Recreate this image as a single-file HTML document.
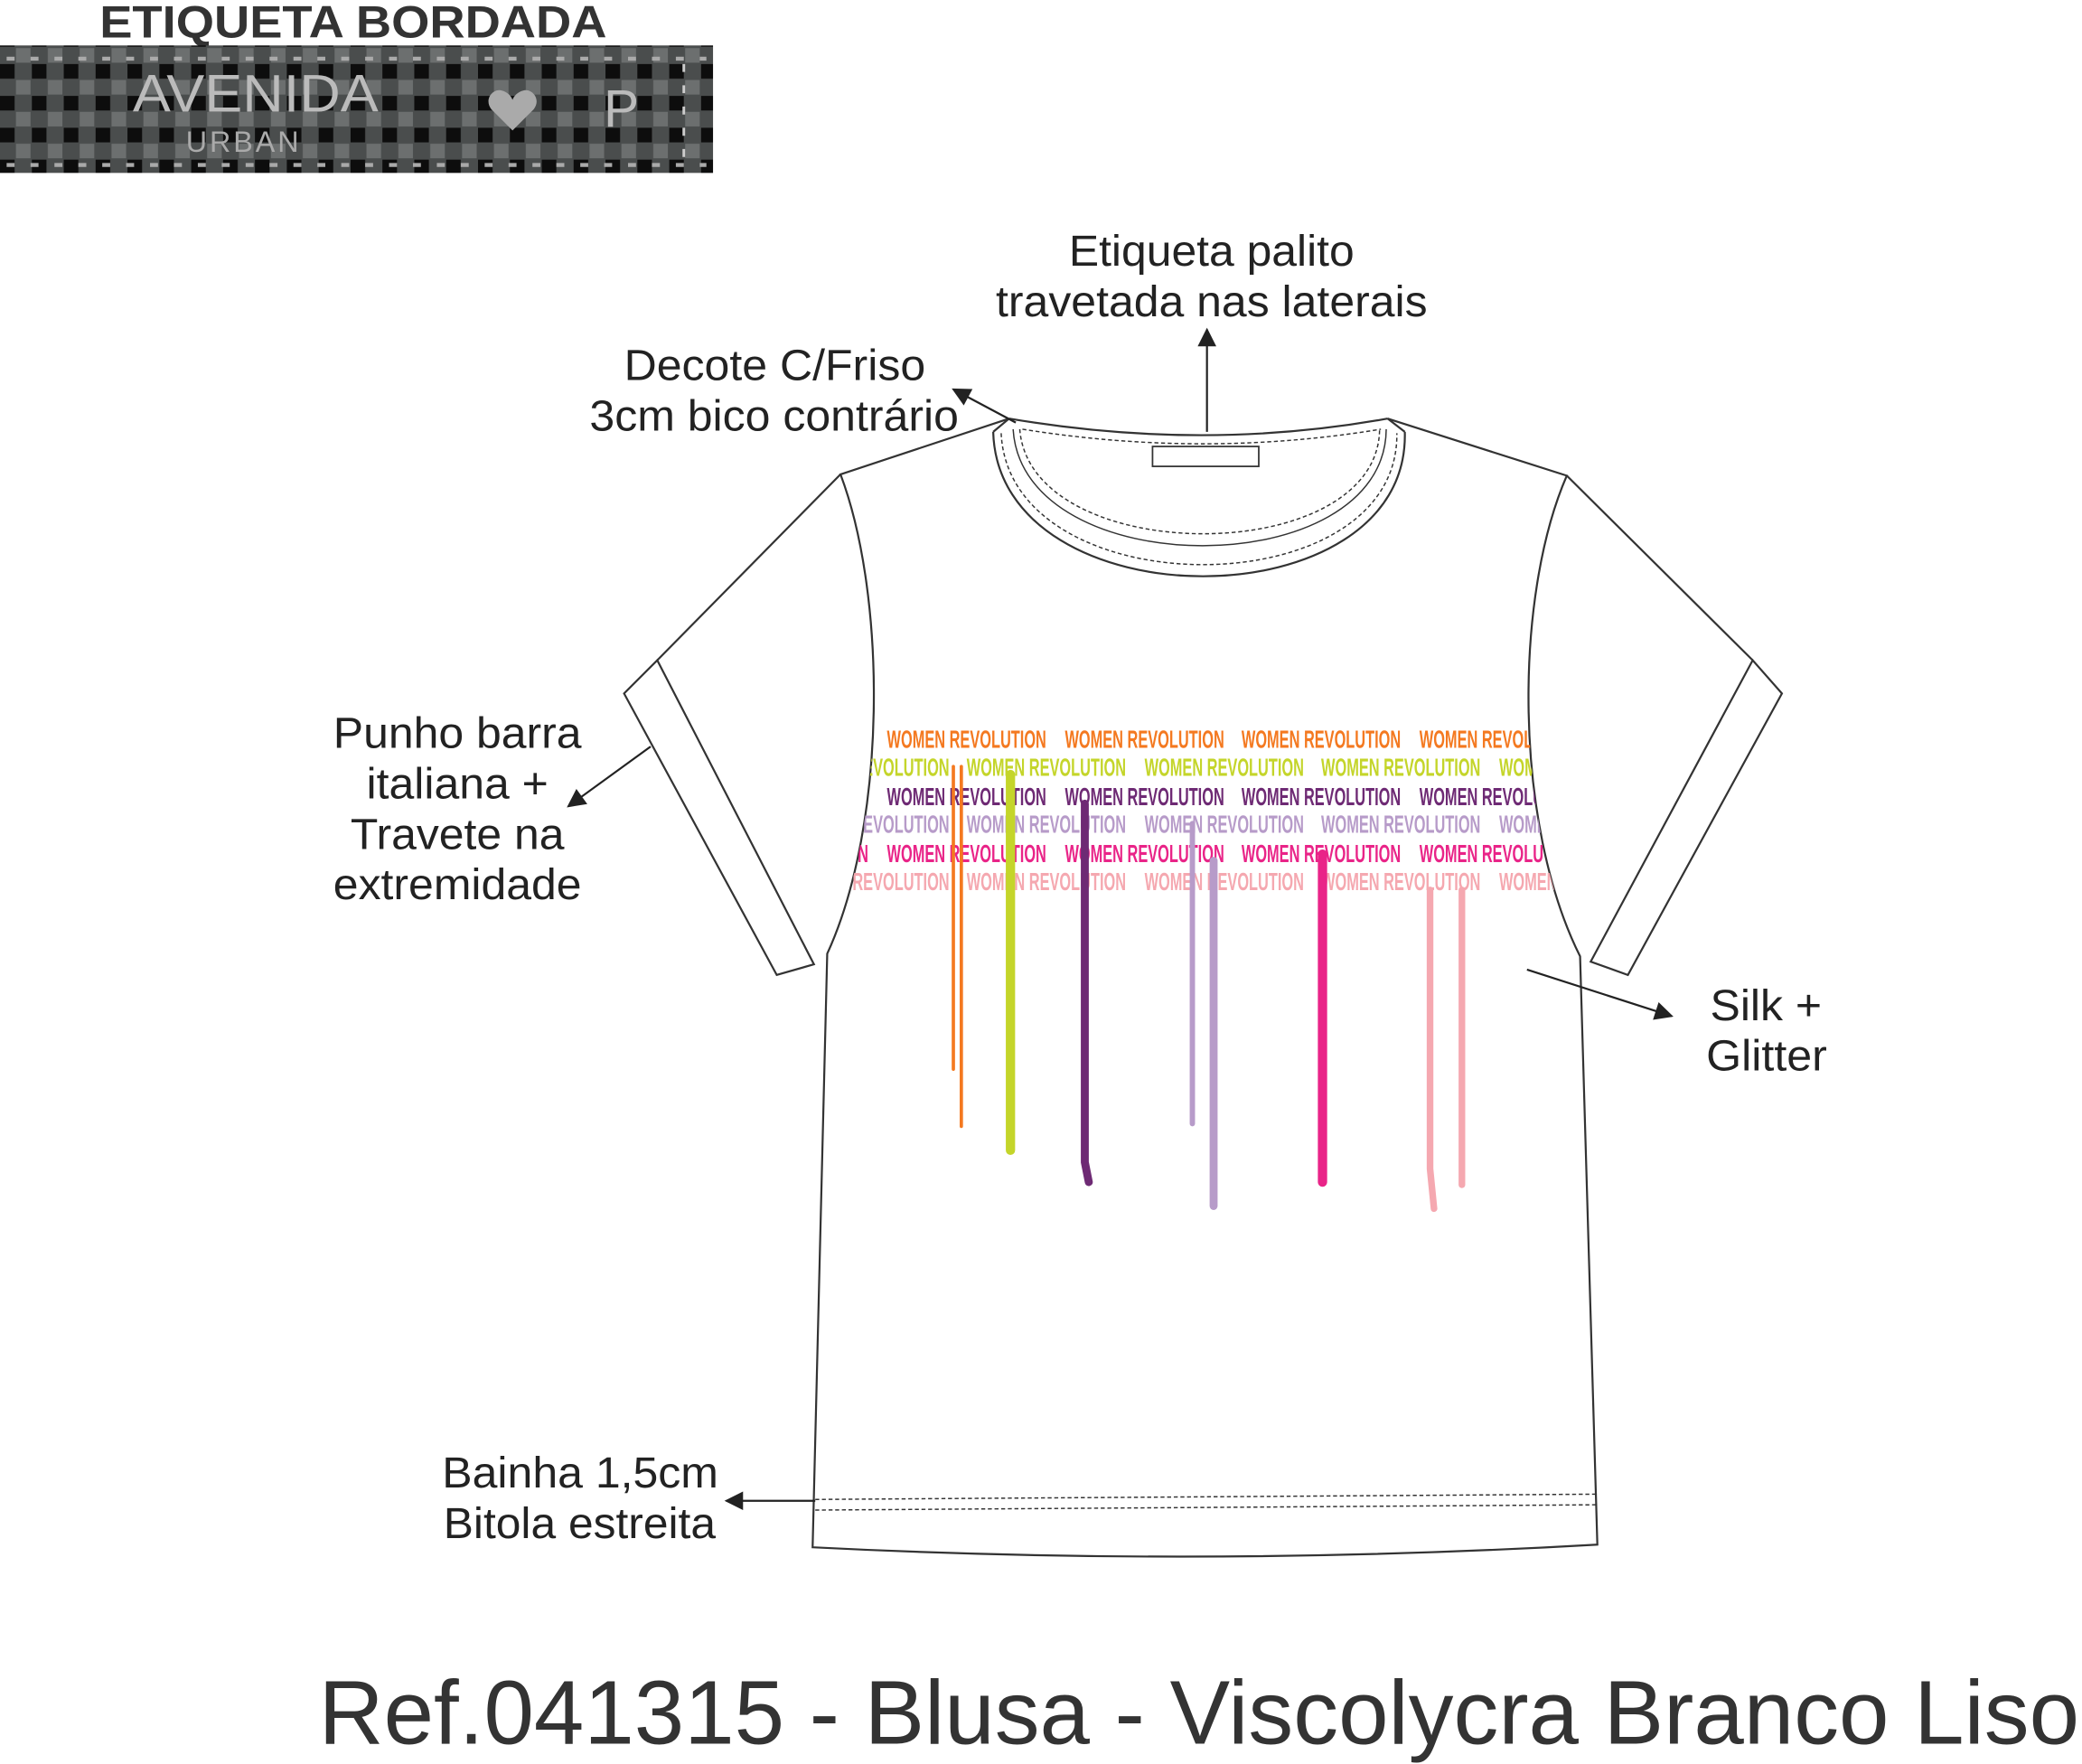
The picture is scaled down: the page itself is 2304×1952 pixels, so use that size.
<!DOCTYPE html>
<html><head><meta charset="utf-8"><style>
html,body{margin:0;padding:0;background:#fff;width:2304px;height:1952px;overflow:hidden}
svg{display:block}
text{font-family:"Liberation Sans",sans-serif}
</style></head><body>
<svg width="2304" height="1952" viewBox="0 0 1568 1328" xmlns="http://www.w3.org/2000/svg">
<defs>
<marker id="ah" viewBox="0 0 10 10" refX="9" refY="5" markerWidth="16" markerHeight="14" orient="auto-start-reverse" markerUnits="userSpaceOnUse"><path d="M0,0 L10,5 L0,10 z" fill="#222"/></marker>
<pattern id="chk" width="24" height="24" patternUnits="userSpaceOnUse">
<rect width="24" height="24" fill="#4a4d4d"/><rect width="11" height="11" fill="#0d0d0d"/><rect x="12" y="12" width="11" height="11" fill="#6c6f6f"/>
</pattern>
<clipPath id="bodyclip"><path d="M633,357 C668,450 668,620 623,718 L612,1165 L1203,1163 L1190,720 C1140,620 1140,450 1180,358 Z"/></clipPath>
</defs>
<text x="75" y="28" font-size="34" font-weight="bold" fill="#333" textLength="382" lengthAdjust="spacingAndGlyphs">ETIQUETA BORDADA</text>
<rect x="0" y="34" width="537" height="96" fill="url(#chk)"/>
<line x1="5" y1="44" x2="532" y2="44" stroke="#aaa" stroke-width="3" stroke-dasharray="6,12"/>
<line x1="5" y1="124" x2="532" y2="124" stroke="#aaa" stroke-width="3" stroke-dasharray="6,12"/>
<line x1="515" y1="48" x2="515" y2="120" stroke="#ccc" stroke-width="2" stroke-dasharray="6,10"/>
<text x="100" y="84" font-size="40" fill="#bbb" textLength="185" lengthAdjust="spacingAndGlyphs">AVENIDA</text>
<text x="140" y="114" font-size="22" fill="#aaa" letter-spacing="2">URBAN</text>
<path d="M386,98 L370,82 C364,74 372,66 378,68 C382,69 385,72 386,75 C387,72 390,69 394,68 C400,66 408,74 402,82 Z" fill="#aaa"/>
<text x="468" y="95" font-size="40" fill="#bbb" text-anchor="middle">P</text>

<g fill="none" stroke="#333" stroke-width="1.5">
<path d="M760,315 L633,357 C668,450 668,620 623,718 L612,1165 Q907,1180 1203,1163 L1190,720 C1140,620 1140,450 1180,358 L1045,315" fill="#fff"/>
<path d="M633,357 L495,497"/>
<path d="M1180,358 L1320,497"/>
<path d="M470,522 L495,497 L613,726 L585,734 Z" fill="#fff"/>
<path d="M1342,522 L1320,497 L1198,724 L1226,734 Z" fill="#fff"/>
<path d="M760,315 Q907,340 1045,315"/>
<path d="M748,325 C752,470 1062,470 1058,325"/>
<path d="M760,315 L748,325 M1045,315 L1058,325"/>
<path d="M754,326 C760,458 1054,458 1052,326" stroke-width="1" stroke-dasharray="3,2"/>
<path d="M763,323 C770,440 1043,440 1044,323" stroke-width="1"/>
<path d="M768,323 C776,428 1038,428 1039,323" stroke-width="1" stroke-dasharray="3,2"/>
<path d="M770,323 Q907,345 1040,323" stroke-width="1" stroke-dasharray="3,2"/>
<rect x="868" y="336" width="80" height="15" fill="#fff" stroke-width="1.2"/>
<path d="M614,1129 L1204,1125" stroke-width="1" stroke-dasharray="3,2"/>
<path d="M614,1137 L1204,1133" stroke-width="1" stroke-dasharray="3,2"/>
</g>

<g clip-path="url(#bodyclip)" font-family="'Liberation Sans Narrow','Liberation Sans',sans-serif" font-size="19" font-weight="bold">
<g fill="#f47920">
<text x="668" y="563" textLength="120" lengthAdjust="spacingAndGlyphs">WOMEN REVOLUTION</text>
<text x="802" y="563" textLength="120" lengthAdjust="spacingAndGlyphs">WOMEN REVOLUTION</text>
<text x="935" y="563" textLength="120" lengthAdjust="spacingAndGlyphs">WOMEN REVOLUTION</text>
<text x="1069" y="563" textLength="120" lengthAdjust="spacingAndGlyphs">WOMEN REVOLUTION</text></g>
<g fill="#c4d52a">
<text x="595" y="584" textLength="120" lengthAdjust="spacingAndGlyphs">WOMEN REVOLUTION</text>
<text x="728" y="584" textLength="120" lengthAdjust="spacingAndGlyphs">WOMEN REVOLUTION</text>
<text x="862" y="584" textLength="120" lengthAdjust="spacingAndGlyphs">WOMEN REVOLUTION</text>
<text x="995" y="584" textLength="120" lengthAdjust="spacingAndGlyphs">WOMEN REVOLUTION</text>
<text x="1129" y="584" textLength="120" lengthAdjust="spacingAndGlyphs">WOMEN REVOLUTION</text></g>
<g fill="#6e2a74">
<text x="668" y="606" textLength="120" lengthAdjust="spacingAndGlyphs">WOMEN REVOLUTION</text>
<text x="802" y="606" textLength="120" lengthAdjust="spacingAndGlyphs">WOMEN REVOLUTION</text>
<text x="935" y="606" textLength="120" lengthAdjust="spacingAndGlyphs">WOMEN REVOLUTION</text>
<text x="1069" y="606" textLength="120" lengthAdjust="spacingAndGlyphs">WOMEN REVOLUTION</text></g>
<g fill="#b79bc9">
<text x="595" y="627" textLength="120" lengthAdjust="spacingAndGlyphs">WOMEN REVOLUTION</text>
<text x="728" y="627" textLength="120" lengthAdjust="spacingAndGlyphs">WOMEN REVOLUTION</text>
<text x="862" y="627" textLength="120" lengthAdjust="spacingAndGlyphs">WOMEN REVOLUTION</text>
<text x="995" y="627" textLength="120" lengthAdjust="spacingAndGlyphs">WOMEN REVOLUTION</text>
<text x="1129" y="627" textLength="120" lengthAdjust="spacingAndGlyphs">WOMEN REVOLUTION</text></g>
<g fill="#e92488">
<text x="534" y="649" textLength="120" lengthAdjust="spacingAndGlyphs">WOMEN REVOLUTION</text>
<text x="668" y="649" textLength="120" lengthAdjust="spacingAndGlyphs">WOMEN REVOLUTION</text>
<text x="802" y="649" textLength="120" lengthAdjust="spacingAndGlyphs">WOMEN REVOLUTION</text>
<text x="935" y="649" textLength="120" lengthAdjust="spacingAndGlyphs">WOMEN REVOLUTION</text>
<text x="1069" y="649" textLength="120" lengthAdjust="spacingAndGlyphs">WOMEN REVOLUTION</text></g>
<g fill="#f5a8b0">
<text x="595" y="670" textLength="120" lengthAdjust="spacingAndGlyphs">WOMEN REVOLUTION</text>
<text x="728" y="670" textLength="120" lengthAdjust="spacingAndGlyphs">WOMEN REVOLUTION</text>
<text x="862" y="670" textLength="120" lengthAdjust="spacingAndGlyphs">WOMEN REVOLUTION</text>
<text x="995" y="670" textLength="120" lengthAdjust="spacingAndGlyphs">WOMEN REVOLUTION</text>
<text x="1129" y="670" textLength="120" lengthAdjust="spacingAndGlyphs">WOMEN REVOLUTION</text></g>
</g>
<g stroke-linecap="round" fill="none">
<path d="M718,577 L718,805 M724,577 L724,848" stroke="#f47920" stroke-width="2.5"/>
<path d="M761,583 L761,866" stroke="#c4d52a" stroke-width="7"/>
<path d="M817,605 L817,875 L820,890" stroke="#6e2a74" stroke-width="6"/>
<path d="M898,620 L898,846" stroke="#b79bc9" stroke-width="4"/>
<path d="M914,648 L914,908" stroke="#b79bc9" stroke-width="6"/>
<path d="M996,643 L996,890" stroke="#e92488" stroke-width="7"/>
<path d="M1077,670 L1077,880 L1080,910" stroke="#f5a8b0" stroke-width="5"/>
<path d="M1101,670 L1101,892" stroke="#f5a8b0" stroke-width="5"/>
</g>

<g fill="#222" font-size="33">
<text x="805" y="200" textLength="215" lengthAdjust="spacingAndGlyphs">Etiqueta palito</text>
<text x="750" y="238" textLength="325" lengthAdjust="spacingAndGlyphs">travetada nas laterais</text>
<text x="470" y="286" textLength="227" lengthAdjust="spacingAndGlyphs">Decote C/Friso</text>
<text x="444" y="324" textLength="278" lengthAdjust="spacingAndGlyphs">3cm bico contrário</text>
<text x="251" y="563" textLength="187" lengthAdjust="spacingAndGlyphs">Punho barra</text>
<text x="276" y="601" textLength="137" lengthAdjust="spacingAndGlyphs">italiana +</text>
<text x="264" y="639" textLength="161" lengthAdjust="spacingAndGlyphs">Travete na</text>
<text x="251" y="677" textLength="187" lengthAdjust="spacingAndGlyphs">extremidade</text>
<text x="1288" y="768" textLength="84" lengthAdjust="spacingAndGlyphs">Silk +</text>
<text x="1285" y="806" textLength="91" lengthAdjust="spacingAndGlyphs">Glitter</text>
<text x="333" y="1120" textLength="208" lengthAdjust="spacingAndGlyphs">Bainha 1,5cm</text>
<text x="334" y="1158" textLength="205" lengthAdjust="spacingAndGlyphs">Bitola estreita</text>
</g>
<g stroke="#222" stroke-width="1.5" fill="none">
<line x1="909" y1="325" x2="909" y2="248" marker-end="url(#ah)"/>
<line x1="765" y1="318" x2="718" y2="293" marker-end="url(#ah)"/>
<line x1="490" y1="562" x2="428" y2="607" marker-end="url(#ah)"/>
<line x1="1150" y1="730" x2="1259" y2="765" marker-end="url(#ah)"/>
<line x1="614" y1="1130" x2="547" y2="1130" marker-end="url(#ah)"/>
</g>
<text x="240" y="1313" font-size="68" fill="#333" textLength="1326" lengthAdjust="spacingAndGlyphs">Ref.041315 - Blusa - Viscolycra Branco Liso</text>
</svg>
</body></html>
